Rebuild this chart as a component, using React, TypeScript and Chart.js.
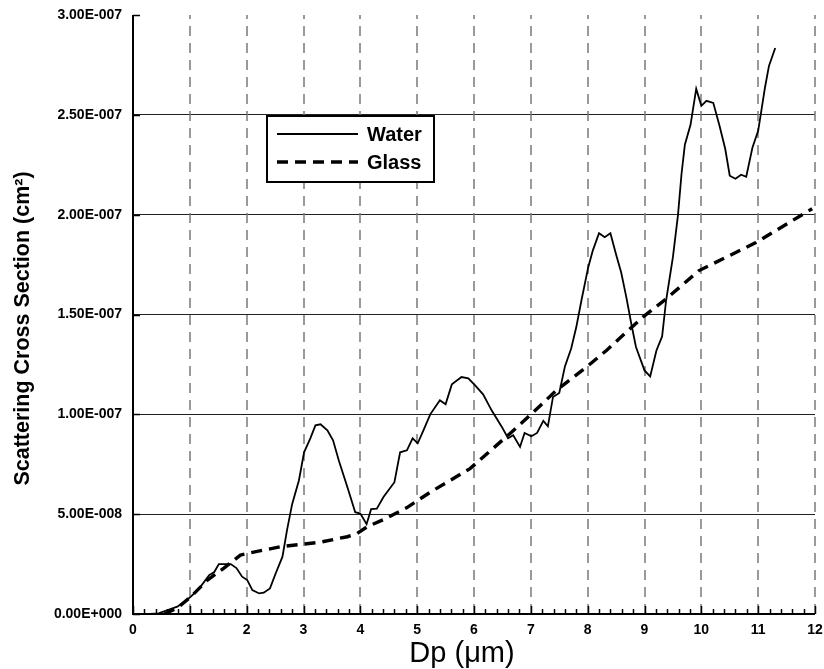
import { useEffect, useRef } from 'react';
import { Chart, registerables } from 'chart.js';

Chart.register(...registerables);

// ---- data (x in µm, y in units of 1e-9 cm²) ----
const Y_UNIT = 1e-9;

const WATER_X = [
  0.3, 0.45, 0.61, 0.78, 1.02, 1.19, 1.34, 1.43, 1.51, 1.72, 1.82, 1.92, 2.01, 2.1, 2.22, 2.3, 2.41, 2.51,
  2.63, 2.71, 2.8, 2.92, 3.01, 3.12, 3.21, 3.3, 3.42, 3.52, 3.62, 3.77, 3.91, 4.0, 4.11, 4.19, 4.29, 4.41,
  4.6, 4.7, 4.82, 4.92, 5.01, 5.11, 5.23, 5.4, 5.5, 5.61, 5.78, 5.9, 6.02, 6.16, 6.31, 6.49, 6.6, 6.69,
  6.81, 6.89, 7.01, 7.11, 7.22, 7.3, 7.39, 7.5, 7.6, 7.71, 7.8, 7.89, 8.01, 8.09, 8.2, 8.3, 8.4, 8.5,
  8.59, 8.68, 8.77, 8.85, 9.0, 9.1, 9.21, 9.31, 9.38, 9.5, 9.59, 9.65, 9.71, 9.81, 9.91, 10.0, 10.09,
  10.21, 10.32, 10.42, 10.5, 10.6, 10.7, 10.79, 10.9, 11.0, 11.05, 11.12, 11.19, 11.3,
];
const WATER_Y = [
  0, 0.3, 2, 3.7, 8.7, 13.7, 19.5, 21, 25, 25, 23, 18.7, 17, 12, 10.3, 10.7, 12.8, 20.3,
  28.7, 42, 55, 67, 81, 88, 94.5, 95, 92, 87, 77, 63.7, 51, 50.3, 45, 52.5, 52.8, 58.7,
  66, 81, 82, 88, 85.5, 92, 100, 107, 105, 115, 118.7, 118, 114.5, 110, 102, 93.7, 88, 89.5,
  83.7, 90.7, 89, 90.7, 96.7, 94, 108.7, 110.7, 124, 133, 143.7, 157, 173.7, 182, 190.7, 188.7, 190.7, 180,
  171, 158.7, 145, 133.7, 122, 119, 132, 139, 157, 178.7, 200, 220, 235, 245, 263, 254.5, 257,
  256, 244.5, 233, 219.5, 218, 220, 219, 233.7, 242, 251, 263.7, 274.5, 283.5,
];

const GLASS_X = [
  0.55, 0.78, 1.02, 1.31, 1.6, 1.89, 2.07, 2.6, 3.3, 3.77, 3.94, 4.12, 4.41, 4.82, 5.23, 5.93, 6.63,
  7.04, 7.45, 7.98, 8.33, 8.97, 9.38, 9.96, 10.96, 11.95,
];
const GLASS_Y = [
  0, 3, 8.7, 17, 23, 29.5, 30.7, 33.7, 36, 38.7, 40.3, 43.7, 47.3, 53.3, 61, 72.8, 90.3,
  101, 112, 123.7, 132, 148.7, 157.8, 172, 186, 203,
];

const SERIES_LABELS = ['Water', 'Glass'];
const X_MIN = 0;
const X_MAX = 12;
const X_STEP = 1;
const X_MINOR_PER_MAJOR = 5;
const Y_MIN = 0;
const Y_MAX = 3e-7;
const Y_STEP = 5e-8;

const X_TITLE = 'Dp (μm)';
const Y_TITLE = 'Scattering Cross Section (cm²)';

const FONT = 'Arial, "Liberation Sans", Helvetica, sans-serif';

function fmtSci(v: number): string {
  if (Math.abs(v) < 1e-20) return '0.00E+000';
  const e = Math.floor(Math.log10(Math.abs(v)) + 1e-9);
  const m = v / Math.pow(10, e);
  return m.toFixed(2) + 'E' + (e < 0 ? '-' : '+') + String(Math.abs(e)).padStart(3, '0');
}

const decorPlugin = {
  id: 'decor',
  beforeDatasetsDraw(chart: any) {
    const { ctx, chartArea, scales } = chart;
    const { top, bottom } = chartArea;
    const x = scales.x;
    ctx.save();
    ctx.strokeStyle = '#7a7a7a';
    ctx.lineWidth = 1.5;
    ctx.setLineDash([10, 7]);
    for (let v = X_MIN + X_STEP; v <= X_MAX + 1e-9; v += X_STEP) {
      const px = Math.round(x.getPixelForValue(v));
      ctx.beginPath();
      ctx.moveTo(px, bottom);
      ctx.lineTo(px, top);
      ctx.stroke();
    }
    ctx.restore();
  },
  afterDatasetsDraw(chart: any) {
    const { ctx, chartArea, scales } = chart;
    const { left, right, top, bottom } = chartArea;
    const x = scales.x;
    const y = scales.y;
    ctx.save();
    ctx.strokeStyle = '#000';
    ctx.lineWidth = 2;
    ctx.setLineDash([]);
    // axis lines
    ctx.beginPath();
    ctx.moveTo(left, top);
    ctx.lineTo(left, bottom);
    ctx.lineTo(right, bottom);
    ctx.stroke();
    // x ticks (inside, upward)
    ctx.lineWidth = 1.5;
    const n = Math.round((X_MAX - X_MIN) / X_STEP) * X_MINOR_PER_MAJOR;
    for (let i = 0; i <= n; i++) {
      const v = X_MIN + (i * X_STEP) / X_MINOR_PER_MAJOR;
      const px = Math.round(x.getPixelForValue(v)) + 0.5;
      const len = i % X_MINOR_PER_MAJOR === 0 ? 8 : 5;
      ctx.beginPath();
      ctx.moveTo(px, bottom);
      ctx.lineTo(px, bottom - len);
      ctx.stroke();
    }
    // y ticks (inside, rightward)
    for (const t of y.ticks) {
      const py = Math.round(y.getPixelForValue(t.value)) + 0.5;
      ctx.beginPath();
      ctx.moveTo(left, py);
      ctx.lineTo(left + 7, py);
      ctx.stroke();
    }
    ctx.restore();
  },
  afterDraw(chart: any) {
    const { ctx, chartArea } = chart;
    const { left, right, top, bottom } = chartArea;
    ctx.save();
    // axis titles
    ctx.fillStyle = '#000';
    ctx.textAlign = 'center';
    ctx.textBaseline = 'middle';
    ctx.font = '29px ' + FONT;
    ctx.fillText(X_TITLE, (left + right) / 2 - 12, 654);
    ctx.save();
    ctx.translate(23, (top + bottom) / 2 + 14);
    ctx.rotate(-Math.PI / 2);
    ctx.font = 'bold 21.5px ' + FONT;
    ctx.fillText(Y_TITLE, 0, 0);
    ctx.restore();
    // legend
    const bx = left + 134;
    const by = top + 101;
    const bw = 167;
    const bh = 66;
    ctx.fillStyle = '#fff';
    ctx.fillRect(bx, by, bw, bh);
    ctx.strokeStyle = '#000';
    ctx.lineWidth = 2;
    ctx.strokeRect(bx, by, bw, bh);
    chart.data.datasets.forEach((ds: any, i: number) => {
      const ly = by + 18 + i * 28;
      ctx.beginPath();
      ctx.lineWidth = ds.borderWidth;
      ctx.setLineDash(ds.borderDash || []);
      ctx.strokeStyle = ds.borderColor;
      ctx.moveTo(bx + 10, ly);
      ctx.lineTo(bx + 91, ly);
      ctx.stroke();
      ctx.setLineDash([]);
      ctx.fillStyle = '#000';
      ctx.font = 'bold 20px ' + FONT;
      ctx.textBaseline = 'middle';
      ctx.textAlign = 'left';
      ctx.fillText(ds.label, bx + 100, ly + 1);
    });
    ctx.restore();
  },
};

export default function App() {
  const ref = useRef<HTMLCanvasElement>(null);
  useEffect(() => {
    const canvas = ref.current;
    if (!canvas) return;
    Chart.defaults.font.family = FONT;
    const water = WATER_X.map((xv, i) => ({ x: xv, y: WATER_Y[i] * Y_UNIT }));
    const glass = GLASS_X.map((xv, i) => ({ x: xv, y: GLASS_Y[i] * Y_UNIT }));
    const chart = new Chart(canvas, {
      type: 'line',
      data: {
        datasets: [
          {
            label: SERIES_LABELS[0],
            data: water,
            borderColor: '#000',
            borderWidth: 1.8,
            pointRadius: 0,
            tension: 0,
            fill: false,
          },
          {
            label: SERIES_LABELS[1],
            data: glass,
            borderColor: '#000',
            borderWidth: 3.4,
            borderDash: [11, 7],
            pointRadius: 0,
            tension: 0,
            fill: false,
          },
        ],
      },
      options: {
        responsive: false,
        animation: false,
        events: [],
        layout: { padding: { left: 0, right: 9, top: 15, bottom: 0 } },
        plugins: {
          legend: { display: false },
          tooltip: { enabled: false },
        },
        scales: {
          x: {
            type: 'linear',
            min: X_MIN,
            max: X_MAX,
            afterFit: (s: any) => {
              s.height = 55;
              s.paddingLeft = 0;
              s.paddingRight = 0;
            },
            ticks: {
              stepSize: X_STEP,
              color: '#000',
              font: { size: 14, weight: 'bold' },
              padding: 8,
              maxRotation: 0,
              autoSkip: false,
            },
            grid: { display: false, drawTicks: false },
            border: { display: false },
          },
          y: {
            type: 'linear',
            min: Y_MIN,
            max: Y_MAX,
            afterFit: (s: any) => {
              s.width = 133;
              s.paddingTop = 0;
              s.paddingBottom = 0;
            },
            ticks: {
              stepSize: Y_STEP,
              color: '#000',
              font: { size: 14, weight: 'bold' },
              padding: 11,
              callback: (v: any) => fmtSci(Number(v)),
            },
            grid: {
              drawTicks: false,
              lineWidth: 1,
              color: (c: any) => (c.tick && c.tick.value > Y_MAX * 0.999 ? 'rgba(0,0,0,0)' : '#222'),
            },
            border: { display: false },
          },
        },
      },
      plugins: [decorPlugin],
    });
    return () => chart.destroy();
  }, []);
  return (
    <div style={{ position: 'fixed', left: 0, top: 0, width: 824, height: 669, background: '#fff' }}>
      <canvas ref={ref} width={824} height={669} style={{ display: 'block' }} />
    </div>
  );
}
